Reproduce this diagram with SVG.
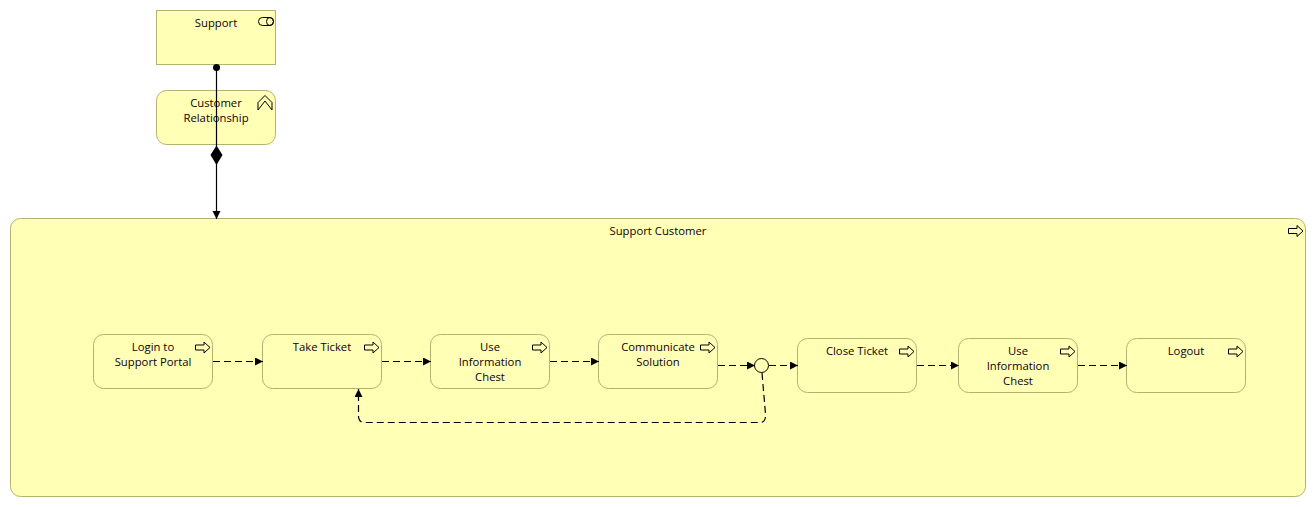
<svg xmlns="http://www.w3.org/2000/svg" width="1316" height="507" viewBox="0 0 1316 507">
<style>
.n{fill:#ffffb5;stroke:#b2b271;stroke-width:1}
.t{font-family:"Open Sans","Noto Sans","Liberation Sans",sans-serif;font-size:11.300px;fill:#10000a;text-anchor:middle}
.i{fill:none;stroke:#000;stroke-width:1}
.c{fill:none;stroke:#000;stroke-width:1.2}
.d{stroke-dasharray:7 4}
</style>
<defs>
<marker id="a" markerUnits="userSpaceOnUse" markerWidth="10" markerHeight="10" refX="8" refY="4" orient="auto"><path d="M0 0L8 4L0 8Z" fill="#000"/></marker>
<path id="p" d="M0 3H8.500V0L14.500 5.500L8.500 11V8H0Z" fill="#ffffb5" stroke="#000"/>
</defs>
<rect width="1316" height="507" fill="#fff"/>
<g id="support-customer"><rect class="n" x="10.500" y="218.500" width="1295" height="278" rx="10"/><text class="t" x="658" y="235">Support Customer</text><use href="#p" x="1288.500" y="225.500"/></g>
<g id="support"><rect class="n" x="156.500" y="10.500" width="119" height="54"/><text class="t" x="216" y="27">Support</text><rect class="i" x="258.500" y="17.500" width="15" height="8" rx="4"/><ellipse class="i" cx="270" cy="21.500" rx="3.500" ry="4"/></g>
<g id="customer-relationship"><rect class="n" x="156.500" y="90.500" width="119" height="54" rx="10"/><text class="t" x="216" y="107">Customer</text><text class="t" x="216" y="122">Relationship</text><path class="i" d="M258 102.500L265 95.500L272 102.500V110L265 101L258 110Z"/></g>
<g id="login"><rect class="n" x="93.500" y="334.500" width="119" height="54" rx="10"/><text class="t" x="153" y="351">Login to</text><text class="t" x="153" y="366">Support Portal</text><use href="#p" x="195.500" y="342"/></g>
<g id="take-ticket"><rect class="n" x="262.500" y="334.500" width="119" height="54" rx="10"/><text class="t" x="322" y="351">Take Ticket</text><use href="#p" x="364.500" y="342"/></g>
<g id="use-chest-1"><rect class="n" x="430.500" y="334.500" width="119" height="54" rx="10"/><text class="t" x="490" y="351">Use</text><text class="t" x="490" y="366">Information</text><text class="t" x="490" y="381">Chest</text><use href="#p" x="532.500" y="342"/></g>
<g id="communicate"><rect class="n" x="598.500" y="334.500" width="119" height="54" rx="10"/><text class="t" x="658" y="351">Communicate</text><text class="t" x="658" y="366">Solution</text><use href="#p" x="700.500" y="342"/></g>
<g id="close-ticket"><rect class="n" x="797.500" y="338.500" width="119" height="54" rx="10"/><text class="t" x="857" y="355">Close Ticket</text><use href="#p" x="899.500" y="346"/></g>
<g id="use-chest-2"><rect class="n" x="958.500" y="338.500" width="119" height="54" rx="10"/><text class="t" x="1018" y="355">Use</text><text class="t" x="1018" y="370">Information</text><text class="t" x="1018" y="385">Chest</text><use href="#p" x="1060.500" y="346"/></g>
<g id="logout"><rect class="n" x="1126.500" y="338.500" width="119" height="54" rx="10"/><text class="t" x="1186" y="355">Logout</text><use href="#p" x="1228.500" y="346"/></g>
<g id="junction"><circle cx="761.500" cy="365.500" r="7" fill="#ffffb5" stroke="#000"/></g>
<g id="connectors">
<circle cx="216.500" cy="67.500" r="3.500"/>
<path class="c" d="M216.500 67.500V148"/>
<path d="M216.500 145.500L222.500 155L216.500 165L210.500 155Z"/>
<path class="c" d="M216.500 163V219" marker-end="url(#a)"/>
<path class="c d" d="M213 361.500H263" marker-end="url(#a)"/>
<path class="c d" d="M382 361.500H431" marker-end="url(#a)"/>
<path class="c d" d="M550 361.500H599" marker-end="url(#a)"/>
<path class="c d" d="M718 365.500H755" marker-end="url(#a)"/>
<path class="c d" d="M769 365.500H798" marker-end="url(#a)"/>
<path class="c d" d="M917 365.500H959" marker-end="url(#a)"/>
<path class="c d" d="M1078 365.500H1127" marker-end="url(#a)"/>
<path class="c d" d="M762 373L765.500 414Q766 422.500 760 422.500H365Q358.500 422.500 358.500 416V389" marker-end="url(#a)"/>
</g>
</svg>
